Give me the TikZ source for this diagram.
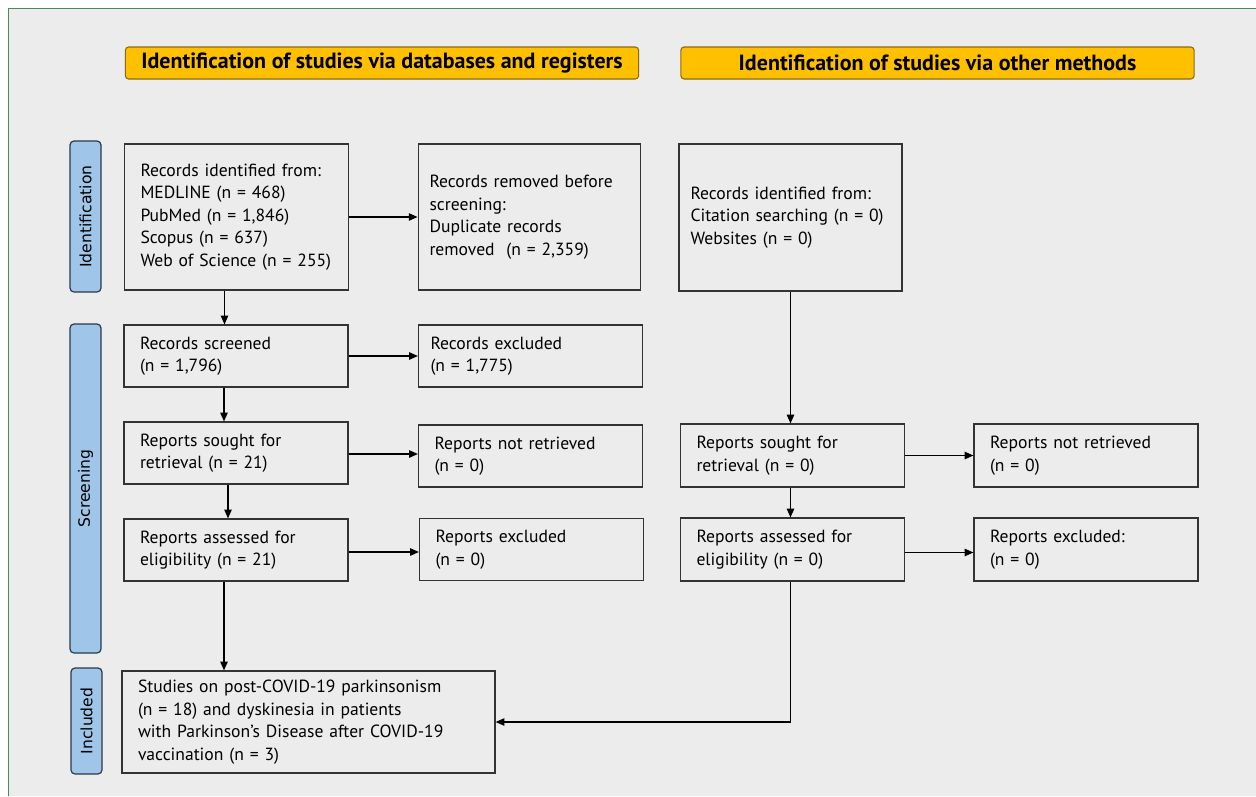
\documentclass[tikz,border=0pt]{standalone}
\usepackage{fontspec}
\setmainfont{PT Sans}
\newfontfamily\sidefont{DejaVu Sans}
\usetikzlibrary{arrows.meta}

\definecolor{bgfill}{HTML}{ECECEC}
\definecolor{framegreen}{HTML}{4A8A5A}
\definecolor{headfill}{HTML}{FFC000}
\definecolor{headline}{HTML}{8A6A10}
\definecolor{sidefill}{HTML}{9FC5E8}
\definecolor{sideline}{HTML}{2A3A4A}
\definecolor{boxline}{HTML}{333333}

\begin{document}
\begin{tikzpicture}[x=0.75pt, y=-0.75pt, >={Triangle[length=6.5pt,width=5.5pt]}, font=\fontsize{13.2}{16.9}\selectfont]

\tikzset{
  box/.style={draw=boxline, line width=0.9pt, fill=bgfill, align=left,
    inner xsep=12pt, inner ysep=0pt, text width=#1},
  box/.default=144pt,
  head/.style={draw=headline, line width=0.8pt, fill=headfill, rounded corners=2.5pt,
    minimum width=385pt, minimum height=24pt, inner sep=0pt,
    font=\fontsize{16.5}{18}\selectfont\bfseries},
  side/.style={draw=sideline, line width=0.9pt, fill=sidefill, rounded corners=3pt,
    rotate=90, minimum height=23.25pt, inner sep=0pt,
    font=\sidefont\fontsize{11.7}{13}\selectfont},
  arr/.style={->, line width=0.9pt, draw=black}
}

% --- Fundo e moldura ---
\useasboundingbox (0,0) rectangle (1256,796);
\fill[white] (0,0) rectangle (1256,796);
\fill[bgfill] (8.5,8.5) rectangle (1256,796);
\draw[framegreen, line width=1pt] (8.5,796) -- (8.5,8.5) -- (1256,8.5);

% --- Cabeçalhos ---
\node[head] (headDB) at (382,63) {Identification of studies via databases and registers};
\node[head] (headOM) at (937.5,63) {Identification of studies via other methods};

% --- Fases (laterais) ---
\node[side, minimum width=113.25pt] (phaseId) at (85.5,216.5) {Identification};
\node[side, minimum width=246.75pt] (phaseScr) at (85.5,488.5) {Screening};
\node[side, minimum width=79.5pt] (phaseInc) at (86.5,721) {Included};

% --- Coluna 1: bases de dados ---
\node[box, minimum height=109.5pt] (ident) at (236.5,217) {Records identified from:\\MEDLINE (n = 468)\\PubMed (n = 1,846)\\Scopus (n = 637)\\Web of Science (n = 255)};
\node[box=150pt, inner xsep=8.5pt, minimum height=109.5pt] (removed) at (529.5,217) {Records removed before\\screening:\\Duplicate records\\removed\ \ (n = 2,359)};

\node[box, minimum height=46.5pt] (screened) at (236,356) {Records screened\\(n = 1,796)};
\node[box=150pt, inner xsep=9pt, minimum height=46.5pt] (excl) at (530.5,356) {Records excluded\\(n = 1,775)};

\node[box, minimum height=46.5pt] (sought) at (236,453) {Reports sought for\\retrieval (n = 21)};
\node[box, minimum height=46.5pt] (notret) at (530.5,456) {Reports not retrieved\\(n = 0)};

\node[box, minimum height=46.5pt] (assessed) at (236,550) {Reports assessed for\\eligibility (n = 21)};
\node[box, minimum height=46.5pt] (excluded) at (531.5,549.5) {Reports excluded\\(n = 0)};

% --- Coluna 2: outros métodos ---
\node[box=150pt, inner xsep=8.6pt, minimum height=110.25pt] (identOM) at (790.5,217.5) {Records identified from:\\Citation searching (n = 0)\\Websites (n = 0)};

\node[box, minimum height=47.25pt] (soughtOM) at (792.5,455.5) {Reports sought for\\retrieval (n = 0)};
\node[box, minimum height=47.25pt] (notretOM) at (1086,455.5) {Reports not retrieved\\(n = 0)};

\node[box, minimum height=47.25pt] (assessedOM) at (792.5,549.5) {Reports assessed for\\eligibility (n = 0)};
\node[box, minimum height=47.25pt] (excludedOM) at (1086,549.5) {Reports excluded:\\(n = 0)};

% --- Incluídos ---
\node[box=255.75pt, minimum height=76.5pt] (included) at (308.5,722) {Studies on post-COVID-19 parkinsonism\\(n = 18) and dyskinesia in patients\\with Parkinson’s Disease after COVID-19\\vaccination (n = 3)};

% --- Setas horizontais ---
\draw[arr] (ident.east) -- (ident.east -| removed.west);
\draw[arr] (screened.east) -- (screened.east -| excl.west);
\draw[arr] ([yshift=-0.75pt]sought.east) -- ([yshift=-0.75pt]sought.east -| notret.west);
\draw[arr] ([yshift=-1.5pt]assessed.east) -- ([yshift=-1.5pt]assessed.east -| excluded.west);
\draw[arr] (soughtOM.east) -- (soughtOM.east -| notretOM.west);
\draw[arr] ([yshift=-2.25pt]assessedOM.east) -- ([yshift=-2.25pt]assessedOM.east -| excludedOM.west);

% --- Setas verticais ---
\draw[arr] ([xshift=-9pt]ident.south) -- ([xshift=-9pt]ident.south |- screened.north);
\draw[arr] ([xshift=-9pt]screened.south) -- ([xshift=-9pt]screened.south |- sought.north);
\draw[arr] ([xshift=-6pt]sought.south) -- ([xshift=-6pt]sought.south |- assessed.north);
\draw[arr] ([xshift=-9pt]assessed.south) -- ([xshift=-9pt]assessed.south |- included.north);

\draw[arr] (identOM.south) -- (identOM.south |- soughtOM.north);
\draw[arr] ([xshift=-1.5pt]soughtOM.south) -- ([xshift=-1.5pt]soughtOM.south |- assessedOM.north);
\draw[arr] ([xshift=-1.5pt]assessedOM.south) |- (included.east);

\end{tikzpicture}
\end{document}
